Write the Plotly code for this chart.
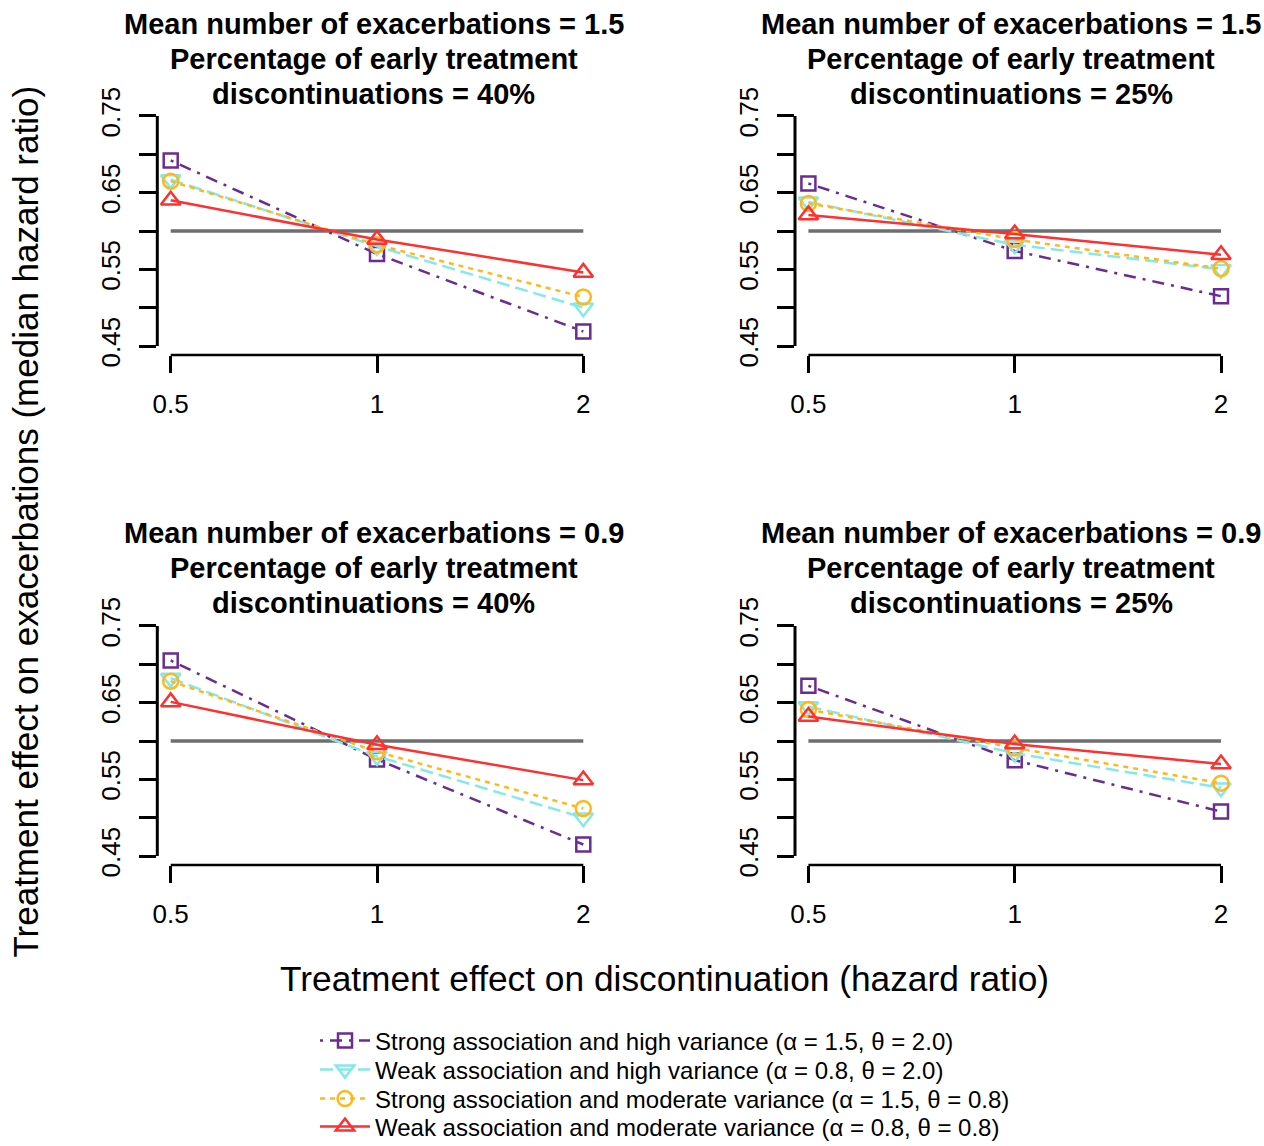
import numpy as np
import plotly.graph_objects as go

# ---------------- data ----------------
hr = [0.5, 1, 2]                      # treatment effect on discontinuation (hazard ratio)
xtick_text = ["0.5", "1", "2"]
panel_mean = ["1.5", "1.5", "0.9", "0.9"]
panel_pct = ["40%", "25%", "40%", "25%"]

# one list per panel: TL, TR, BL, BR ; values at HR = 0.5, 1, 2
strong_high = [[0.692, 0.570, 0.469], [0.662, 0.574, 0.515],
               [0.705, 0.576, 0.465], [0.672, 0.575, 0.508]]
weak_high = [[0.667, 0.580, 0.500], [0.638, 0.582, 0.550],
             [0.682, 0.580, 0.500], [0.645, 0.584, 0.539]]
strong_mod = [[0.665, 0.582, 0.514], [0.636, 0.589, 0.551],
              [0.678, 0.586, 0.512], [0.641, 0.591, 0.545]]
weak_mod = [[0.640, 0.589, 0.546], [0.621, 0.596, 0.569],
            [0.651, 0.595, 0.549], [0.632, 0.596, 0.570]]

reference_value = 0.60
ytick_vals = [0.45, 0.50, 0.55, 0.60, 0.65, 0.70, 0.75]
ytick_text = ["0.45", "", "0.55", "", "0.65", "", "0.75"]

series_names = [
    "Strong association and high variance (α = 1.5, θ = 2.0)",
    "Weak association and high variance (α = 0.8, θ = 2.0)",
    "Strong association and moderate variance (α = 1.5, θ = 0.8)",
    "Weak association and moderate variance (α = 0.8, θ = 0.8)",
]
series_values = [strong_high, weak_high, strong_mod, weak_mod]

# ---------------- styles ----------------
W, H = 1264, 1146
FONT = "Liberation Sans, Arial, sans-serif"
colors = ["#6A2C91", "#86E8E8", "#FFB81C", "#FF3030"]
dashes = ["3px,7px,12px,7px", "13px,6px", "5px,5px", "solid"]
symbols = ["square-open", "triangle-down-open", "circle-open", "triangle-up-open"]
msizes = [14, 17, 15, 17]

x_dom_px = [(157.3, 596.7), (795.0, 1234.4)]
y_dom_px = [(107.0, 355.0), (617.0, 865.0)]
title_cx = [373.5, 1011.0]
title_cy = [(24, 59, 94), (533, 568, 603)]
legend_rows = [1041, 1070, 1099, 1127]

pad = 0.01955
xrange = [np.log10(min(hr)) - pad, np.log10(max(hr)) + pad]
yrange = [0.4383, 0.7617]

fig = go.Figure()
layout = dict(
    width=W, height=H,
    margin=dict(l=0, r=0, t=0, b=0, autoexpand=False),
    paper_bgcolor="white", plot_bgcolor="white",
    font=dict(family=FONT, color="black"),
    showlegend=True,
)
shapes = []
annotations = []

for p in range(4):
    row, col = p // 2, p % 2
    sfx = "" if p == 0 else str(p + 1)
    xa, ya = "x" + sfx, "y" + sfx
    x0, x1 = x_dom_px[col]
    yt, yb = y_dom_px[row]
    layout["xaxis" + sfx] = dict(
        type="log", range=xrange, domain=[x0 / W, x1 / W], anchor=ya,
        tickvals=hr, ticktext=xtick_text, ticks="outside", ticklen=17,
        tickwidth=2.5, tickcolor="black", showline=False, showgrid=False,
        zeroline=False, tickfont=dict(size=26, family=FONT, color="black"),
        ticklabelstandoff=9,
    )
    layout["yaxis" + sfx] = dict(
        range=yrange, domain=[1 - yb / H, 1 - yt / H], anchor=xa,
        tickvals=ytick_vals, ticktext=ytick_text, tickangle=-90,
        ticks="outside", ticklen=17, tickwidth=3, tickcolor="black",
        showline=False, showgrid=False, zeroline=False,
        tickfont=dict(size=26, family=FONT, color="black"),
        ticklabelstandoff=9,
    )
    # detached R-style axis lines spanning first..last tick
    shapes.append(dict(type="line", xref=xa + " domain", yref=ya,
                       x0=0, x1=0, y0=min(ytick_vals), y1=max(ytick_vals),
                       line=dict(color="black", width=3)))
    shapes.append(dict(type="line", xref=xa, yref=ya + " domain",
                       x0=min(hr), x1=max(hr), y0=0, y1=0,
                       line=dict(color="black", width=2.5)))
    # reference line
    fig.add_trace(go.Scatter(x=[min(hr), max(hr)], y=[reference_value] * 2,
                             mode="lines", line=dict(color="#6E6E6E", width=3.5),
                             xaxis=xa, yaxis=ya, showlegend=False, hoverinfo="skip"))
    for s in range(4):
        fig.add_trace(go.Scatter(
            x=hr, y=series_values[s][p], mode="lines+markers",
            name=series_names[s], legendgroup=str(s), showlegend=(p == 0),
            legend="legend" if s == 0 else f"legend{s + 1}",
            line=dict(color=colors[s], width=2.5, dash=dashes[s]),
            marker=dict(symbol=symbols[s], size=msizes[s], color=colors[s],
                        line=dict(color=colors[s], width=2.5)),
            xaxis=xa, yaxis=ya,
        ))
    title_lines = [
        f"<b>Mean number of exacerbations = {panel_mean[p]}</b>",
        "<b>Percentage of early treatment</b>",
        f"<b>discontinuations = {panel_pct[p]}</b>",
    ]
    for k, t in enumerate(title_lines):
        annotations.append(dict(text=t, xref="paper", yref="paper",
                                x=title_cx[col] / W, y=1 - title_cy[row][k] / H,
                                xanchor="center", yanchor="middle", showarrow=False,
                                font=dict(size=29, family=FONT, color="black")))

annotations.append(dict(text="Treatment effect on exacerbations (median hazard ratio)",
                        xref="paper", yref="paper", x=25 / W, y=1 - 521.5 / H,
                        textangle=-90, xanchor="center", yanchor="middle",
                        showarrow=False, font=dict(size=35, family=FONT, color="black")))
annotations.append(dict(text="Treatment effect on discontinuation (hazard ratio)",
                        xref="paper", yref="paper", x=664 / W, y=1 - 978 / H,
                        xanchor="center", yanchor="middle",
                        showarrow=False, font=dict(size=35.3, family=FONT, color="black")))

layout["shapes"] = shapes
layout["annotations"] = annotations
for s in range(4):
    key = "legend" if s == 0 else f"legend{s + 1}"
    layout[key] = dict(x=315 / W, y=1 - legend_rows[s] / H, xanchor="left",
                       yanchor="middle", itemwidth=50,
                       font=dict(size=24, family=FONT, color="black"),
                       bgcolor="rgba(0,0,0,0)")
fig.update_layout(**layout)
fig.write_html("out.html")
